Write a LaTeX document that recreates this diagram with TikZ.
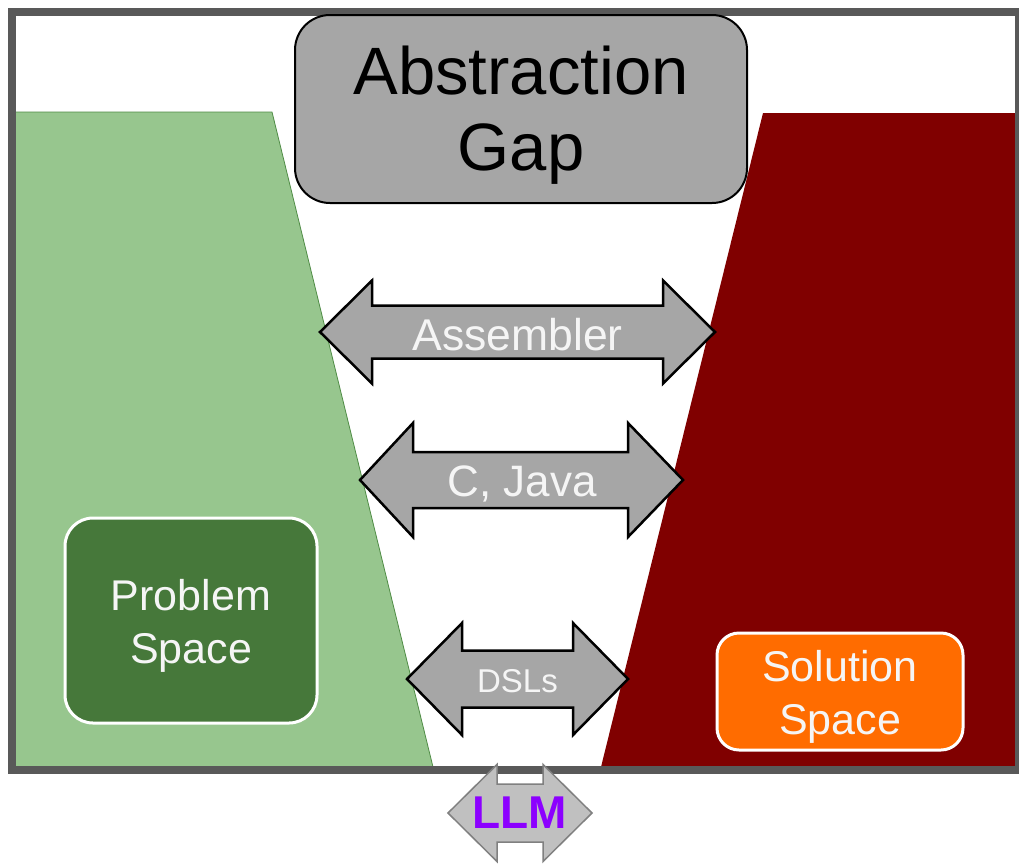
\documentclass[tikz,border=0pt]{standalone}
\usepackage{fontspec}
\setmainfont{Liberation Sans}
\definecolor{frameg}{RGB}{89,89,89}
\definecolor{lgreen}{RGB}{151,198,142}
\definecolor{lgreenedge}{RGB}{80,140,70}
\definecolor{dgreen}{RGB}{70,120,58}
\definecolor{dred}{RGB}{128,0,0}
\definecolor{boxgray}{RGB}{166,166,166}
\definecolor{orng}{RGB}{255,108,0}
\definecolor{llmfill}{RGB}{192,192,192}
\definecolor{llmedge}{RGB}{128,128,128}
\definecolor{purp}{RGB}{140,0,255}
\definecolor{lbl}{RGB}{245,245,245}
\newcommand\dblarrow[8]{% #1 style, #2 xl, #3 xr, #4 yc, #5 neckl, #6 neckr, #7 headhalf, #8 shafthalf
  \draw[#1] (#2,#4) -- (#5,#4-#7) -- (#5,#4-#8) -- (#6,#4-#8) -- (#6,#4-#7) -- (#3,#4)
    -- (#6,#4+#7) -- (#6,#4+#8) -- (#5,#4+#8) -- (#5,#4+#7) -- cycle;}
\tikzset{
  arrowbody/.style={fill=boxgray, draw=black, line width=2.5pt, line join=miter},
  llmbody/.style={fill=llmfill, draw=llmedge, line width=1.5pt, line join=miter},
  arrowlabel/.style={text=lbl, inner sep=0pt},
  spacebox/.style={draw=white, line width=3pt, rounded corners=28pt, inner sep=0pt},
  spacetext/.style={align=center, text=lbl, inner sep=0pt, font=\fontsize{43}{53}\selectfont},
}
\begin{document}
\begin{tikzpicture}[x=1pt,y=-1pt]
\useasboundingbox (0,0) rectangle (1019,865);
\fill[white] (0,0) rectangle (1019,865);
% problem space region
\fill[lgreen] (16,112) -- (272,112) -- (433,767) -- (16,767) -- cycle;
\draw[lgreenedge, line width=0.8pt] (16,112) -- (272,112) -- (433,767);
% solution space region
\fill[dred] (763,113) -- (1019,113) -- (1019,767) -- (601,767) -- cycle;
% frame
\draw[frameg, line width=8pt] (12,11.5) rectangle (1019,770);
% title
\node[draw=black, line width=2pt, fill=boxgray, rounded corners=35pt, minimum width=452pt, minimum height=188pt,
  inner sep=0pt] (gap) at (521,109) {};
\node[align=center, font=\fontsize{67}{76}\selectfont, inner sep=0pt] (gaptext) at (521,115) {Abstraction\\Gap};
% arrows
\dblarrow{arrowbody}{320}{715}{332}{372}{663}{51.5}{26.5}
\node[arrowlabel, font=\fontsize{44.5}{50}\selectfont] (asm) at (517.5,335) {Assembler};
\dblarrow{arrowbody}{360}{683}{480}{413}{628}{57}{28}
\node[arrowlabel, font=\fontsize{44}{50}\selectfont] (cjava) at (522,484) {C, Java};
\dblarrow{arrowbody}{407}{628}{679}{462}{573}{56}{28.5}
\node[arrowlabel, font=\fontsize{33}{38}\selectfont] (dsl) at (517.5,681) {DSLs};
% space boxes
\node[spacebox, fill=dgreen, minimum width=252pt, minimum height=205pt] (prob) at (191,620.5) {};
\node[spacetext] (probtext) at (191,626) {Problem\\Space};
\node[spacebox, fill=orng, rounded corners=22pt, minimum width=246pt, minimum height=117pt] (sol) at (840,691.5) {};
\node[spacetext] (soltext) at (840,697) {Solution\\Space};
% LLM
\dblarrow{llmbody}{448}{592}{813}{497}{543}{48.5}{29}
\node[inner sep=0pt, text=purp, font=\fontsize{46}{52}\selectfont\bfseries] (llm) at (520,813) {LLM};
\end{tikzpicture}
\end{document}
